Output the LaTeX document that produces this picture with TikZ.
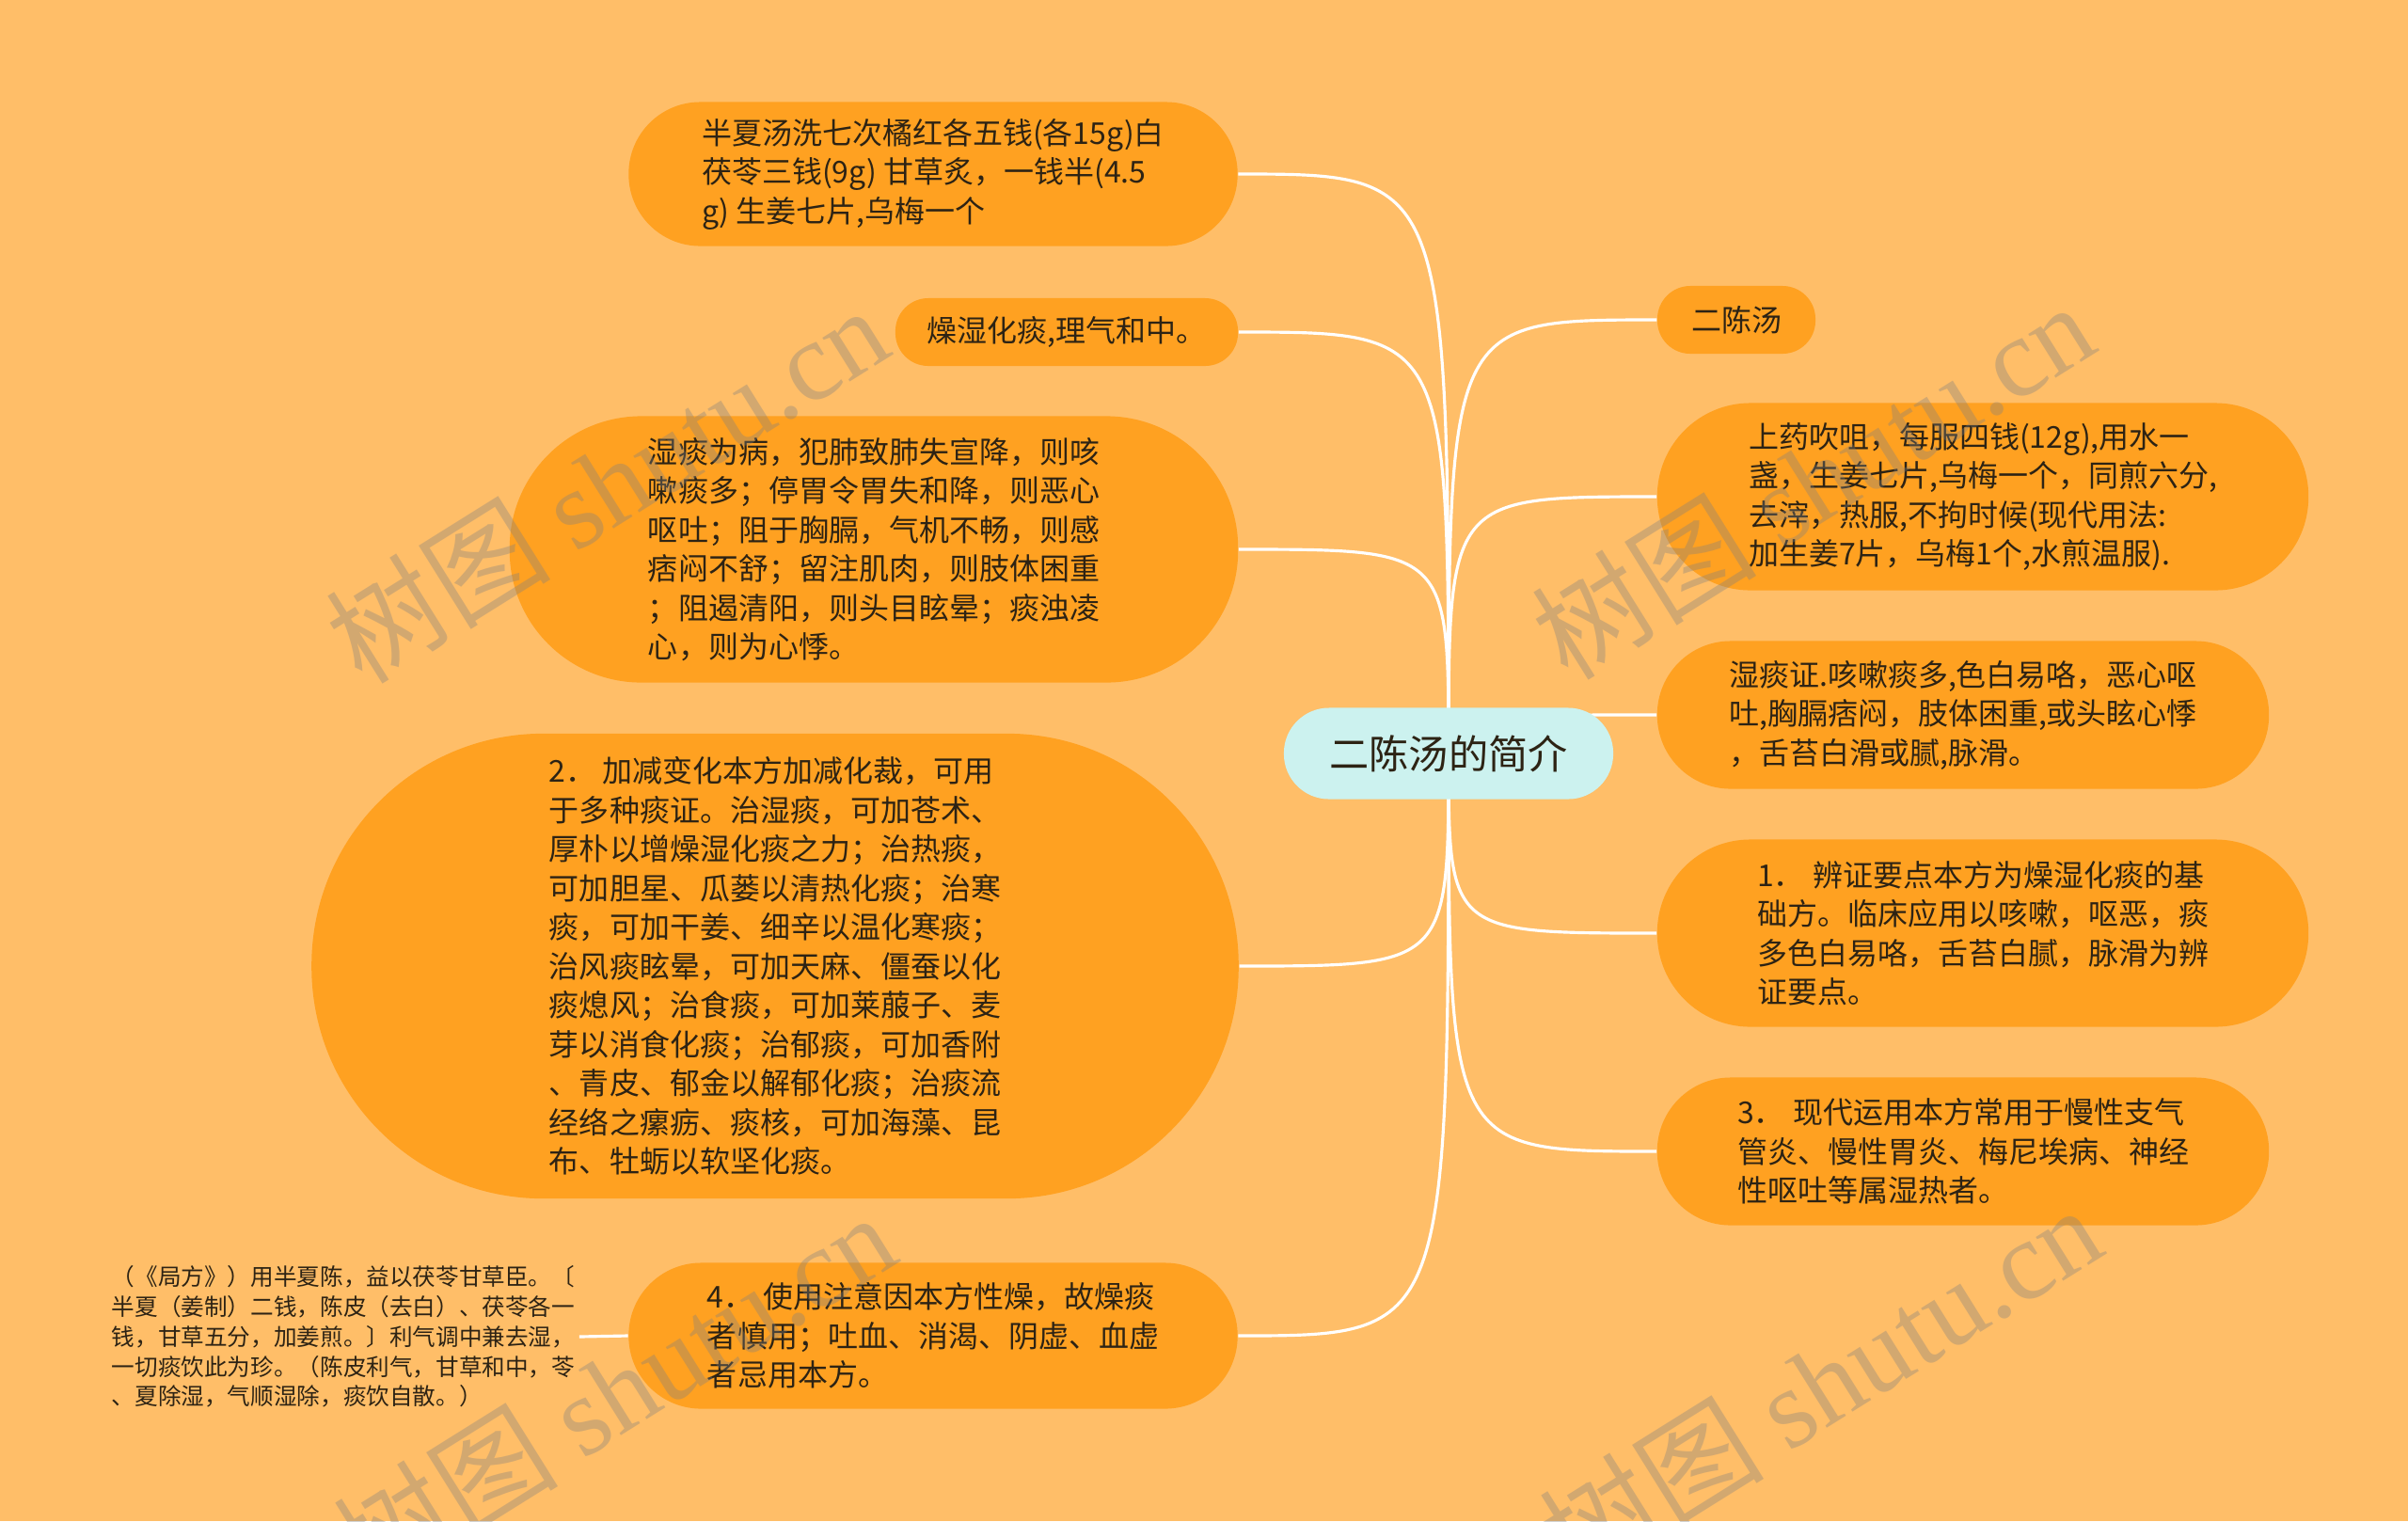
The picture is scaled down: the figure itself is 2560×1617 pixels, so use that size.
\documentclass[tikz,border=0pt]{standalone}
\usepackage{fontspec}
\setmainfont{Noto Sans CJK SC}
\newfontfamily\wmfont{Liberation Serif}
\usetikzlibrary{backgrounds}
\definecolor{bgorange}{RGB}{255,190,104}
\definecolor{nodeorange}{RGB}{255,161,33}
\definecolor{rootcyan}{RGB}{204,242,239}
\definecolor{textdark}{RGB}{45,35,20}
\begin{document}
\begin{tikzpicture}[x=0.01cm,y=-0.01cm,
	topic/.style={fill=nodeorange,text=textdark,align=left,inner sep=0pt,font=\fontsize{9.1}{11.8}\selectfont},
	branch/.style={draw=white,line width=0.9pt},
	wmark/.style={text=gray,opacity=0.35,rotate=32,font=\fontsize{34}{34}\selectfont}]
	\useasboundingbox (0,0) rectangle (2560,1617);
	\node[fill=rootcyan,text=textdark,inner sep=0pt,minimum width=35mm,minimum height=9.7mm,rounded corners=4.8mm,font=\fontsize{12}{14}\selectfont] (root) at (1540,801) {二陈汤的简介};
	% left side
	\node[topic,minimum width=64.7mm,minimum height=15.3mm,rounded corners=7.6mm] (recipe) at (992,185) {半夏汤洗七次橘红各五钱(各15g)白\\茯苓三钱(9g) 甘草炙，一钱半(4.5\\g) 生姜七片,乌梅一个};
	\node[topic,minimum width=36.4mm,minimum height=7.2mm,rounded corners=3.5mm] (effect) at (1134,353) {燥湿化痰,理气和中。};
	\node[topic,minimum width=77.4mm,minimum height=28.3mm,rounded corners=14mm] (cause) at (929,584) {湿痰为病，犯肺致肺失宣降，则咳\\嗽痰多；停胃令胃失和降，则恶心\\呕吐；阻于胸膈，气机不畅，则感\\痞闷不舒；留注肌肉，则肢体困重\\；阻遏清阳，则头目眩晕；痰浊凌\\心，则为心悸。};
	\node[topic,minimum width=98.5mm,minimum height=49.4mm,rounded corners=24.6mm] (variants) at (824,1027) {2．\hspace{0.2em}加减变化本方加减化裁，可用\\于多种痰证。治湿痰，可加苍术、\\厚朴以增燥湿化痰之力；治热痰，\\可加胆星、瓜蒌以清热化痰；治寒\\痰，可加干姜、细辛以温化寒痰；\\治风痰眩晕，可加天麻、僵蚕以化\\痰熄风；治食痰，可加莱菔子、麦\\芽以消食化痰；治郁痰，可加香附\\、青皮、郁金以解郁化痰；治痰流\\经络之瘰疬、痰核，可加海藻、昆\\布、牡蛎以软坚化痰。};
	\node[topic,minimum width=64.7mm,minimum height=15.5mm,rounded corners=7.7mm] (caution) at (992,1420) {4．\hspace{0.3em}使用注意因本方性燥，故燥痰\\者慎用；吐血、消渴、阴虚、血虚\\者忌用本方。};
	\node[text=textdark,align=left,inner sep=0.4mm,font=\fontsize{7}{9.05}\selectfont] (verse) at (365,1421) {（《局方》）用半夏陈，益以茯苓甘草臣。〔\\半夏（姜制）二钱，陈皮（去白）、茯苓各一\\钱，甘草五分，加姜煎。〕利气调中兼去湿，\\一切痰饮此为珍。（陈皮利气，甘草和中，苓\\、夏除湿，气顺湿除，痰饮自散。）};
	% right side
	\node[topic,minimum width=16.8mm,minimum height=7.2mm,rounded corners=3.5mm] (title) at (1846,340) {二陈汤};
	\node[topic,minimum width=69.2mm,minimum height=19.9mm,rounded corners=9.9mm] (dosage) at (2108,528) {上药吹咀，每服四钱(12g),用水一\\盏，生姜七片,乌梅一个，同煎六分,\\去滓，热服,不拘时候(现代用法:\\加生姜7片，乌梅1个,水煎温服).};
	\node[topic,minimum width=65mm,minimum height=15.7mm,rounded corners=7.8mm] (symptoms) at (2087,760) {湿痰证.咳嗽痰多,色白易咯，恶心呕\\吐,胸膈痞闷，肢体困重,或头眩心悸\\，舌苔白滑或腻,脉滑。};
	\node[topic,minimum width=69.2mm,minimum height=19.9mm,rounded corners=9.9mm] (keypoints) at (2108,992) {1．\hspace{0.3em}辨证要点本方为燥湿化痰的基\\础方。临床应用以咳嗽，呕恶，痰\\多色白易咯，舌苔白腻，脉滑为辨\\证要点。};
	\node[topic,minimum width=65mm,minimum height=15.7mm,rounded corners=7.8mm] (modern) at (2087,1224) {3．\hspace{0.3em}现代运用本方常用于慢性支气\\管炎、慢性胃炎、梅尼埃病、神经\\性呕吐等属湿热者。};
	\begin{scope}[on background layer]
		\fill[bgorange] (0,0) rectangle (2560,1617);
		\foreach \n in {recipe,effect,cause,variants,caution}
			\draw[branch] (root.center) .. controls (root.center |- \n.east) .. (\n.east);
		\foreach \n in {title,dosage,symptoms,keypoints,modern}
			\draw[branch] (root.center) .. controls (root.center |- \n.west) .. (\n.west);
		\draw[branch] (caution.west) -- (verse.east);
	\end{scope}
	% watermarks
	\node[wmark] (wm1) at (645,514) {树图 {\wmfont shutu.cn}};
	\node[wmark] (wm2) at (1927,510) {树图 {\wmfont shutu.cn}};
	\node[wmark] (wm3) at (653,1478) {树图 {\wmfont shutu.cn}};
	\node[wmark] (wm4) at (1935,1470) {树图 {\wmfont shutu.cn}};
\end{tikzpicture}
\end{document}
